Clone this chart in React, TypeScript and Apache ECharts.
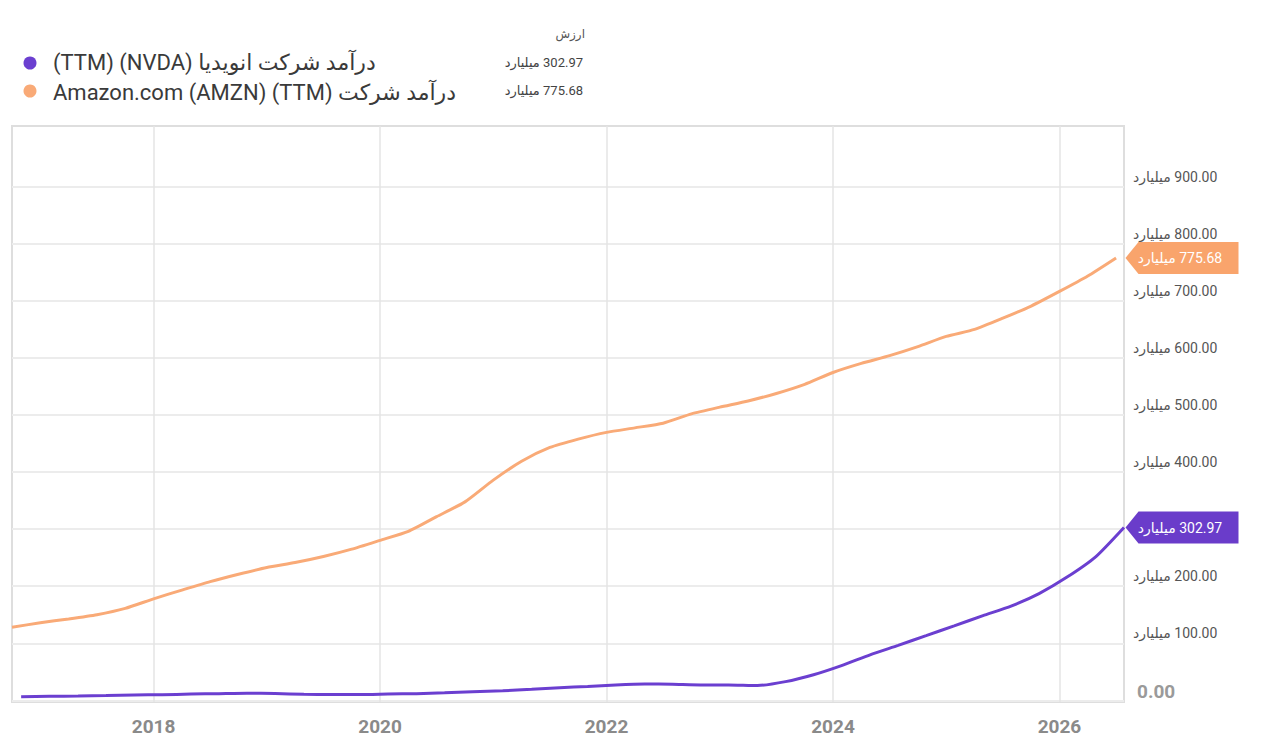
import React, { useEffect, useRef } from "react";
import * as echarts from "echarts";

// ---- data ----
const amznDates = [
  "2016-09-30", "2016-12-31",
  "2017-03-31", "2017-06-30", "2017-09-30", "2017-12-31",
  "2018-03-31", "2018-06-30", "2018-09-30", "2018-12-31",
  "2019-03-31", "2019-06-30", "2019-09-30", "2019-12-31",
  "2020-03-31", "2020-06-30", "2020-09-30", "2020-12-31",
  "2021-03-31", "2021-06-30", "2021-09-30", "2021-12-31",
  "2022-03-31", "2022-06-30", "2022-09-30", "2022-12-31",
  "2023-03-31", "2023-06-30", "2023-09-30", "2023-12-31",
  "2024-03-31", "2024-06-30", "2024-09-30", "2024-12-31",
  "2025-03-31", "2025-06-30", "2025-09-30", "2025-12-31",
  "2026-03-31", "2026-06-30",
];
const amznValues = [
  128.0, 136.0,
  142.6, 150.1, 161.2, 177.9,
  193.2, 208.1, 221.0, 232.9,
  241.5, 252.1, 265.0, 280.5,
  296.3, 322.0, 347.9, 386.1,
  419.1, 443.3, 458.0, 469.8,
  477.7, 485.9, 502.2, 514.0,
  524.9, 538.0, 554.0, 574.8,
  590.7, 604.3, 620.1, 638.0,
  650.3, 670.0, 691.3, 716.9,
  744.0, 775.68,
];
const nvdaDates = [
  "2016-10-30", "2017-01-29", "2017-04-30", "2017-07-30", "2017-10-29",
  "2018-01-28", "2018-04-29", "2018-07-29", "2018-10-28",
  "2019-01-27", "2019-04-28", "2019-07-28", "2019-10-27",
  "2020-01-26", "2020-04-26", "2020-07-26", "2020-10-25",
  "2021-01-31", "2021-05-02", "2021-08-01", "2021-10-31",
  "2022-01-30", "2022-05-01", "2022-07-31", "2022-10-30",
  "2023-01-29", "2023-04-30", "2023-07-30", "2023-10-29",
  "2024-01-28", "2024-04-28", "2024-07-28", "2024-10-27",
  "2025-01-26", "2025-04-27", "2025-07-27", "2025-10-26",
  "2026-01-25", "2026-04-26", "2026-07-26",
];
const nvdaValues = [
  6.14, 6.91, 7.54, 8.34, 9.31,
  9.71, 10.87, 11.66, 12.48,
  11.72, 10.65, 10.14, 10.02,
  10.92, 11.67, 13.06, 14.78,
  16.68, 19.27, 21.99, 24.27,
  26.91, 28.57, 28.08, 26.97,
  26.97, 25.88, 32.68, 44.87,
  60.92, 79.77, 96.31, 113.27,
  130.5, 148.52, 165.22, 187.14,
  216.0, 252.0, 302.97,
];
const xTickYears = [2018, 2020, 2022, 2024, 2026];
const yTickValues = [0, 100, 200, 300, 400, 500, 600, 700, 800, 900];
const unitWord = "میلیارد";
const nvdaName = "(TTM) (NVDA) درآمد شرکت انویدیا";
const amznName = "Amazon.com (AMZN) (TTM) درآمد شرکت";
const valueHeader = "ارزش";

const PURPLE = "#6b3fd0";
const ORANGE = "#f9aa77";
const TAG_PURPLE = "#6a3cca";
const TAG_ORANGE = "#f9a46c";
const FONT = "Roboto, 'DejaVu Sans', sans-serif";
const RLM = "\u200F";

function toYear(d: string): number {
  const [y, m, day] = d.split("-").map(Number);
  const dim = new Date(y, m, 0).getDate();
  return y + (m - 1 + day / dim) / 12;
}

// RLM prefix makes the number sit on the right of the word, as in an RTL page
const fmt = (v: number) => RLM + v.toFixed(2) + " " + unitWord;

export default function App() {
  const ref = useRef<HTMLDivElement>(null);
  useEffect(() => {
    if (!ref.current) return;
    const chart = echarts.init(ref.current, null, { renderer: "svg" });
    const amzn = amznDates.map((d, i) => [toYear(d), amznValues[i]]);
    const nvda = nvdaDates.map((d, i) => [toYear(d), nvdaValues[i]]);
    const xMin = Math.min(amzn[0][0], nvda[0][0]);
    const xMax = Math.max(amzn[amzn.length - 1][0], nvda[nvda.length - 1][0]);
    const lastA = amznValues[amznValues.length - 1];
    const lastN = nvdaValues[nvdaValues.length - 1];
    const tagPath = "path://M0,16L13,0L113,0L113,32L13,32Z";
    const tag = (color: string, v: number) => ({
      symbol: tagPath,
      symbolSize: [113, 32],
      symbolOffset: [58, 0],
      silent: true,
      itemStyle: { color },
      label: {
        show: true,
        position: "inside",
        offset: [-2, 0],
        color: "#fff",
        fontSize: 14,
        fontFamily: FONT,
        formatter: fmt(v),
      },
      data: [{ coord: [xMax, v] }],
    });
    const option: any = {
      animation: false,
      backgroundColor: "#ffffff",
      grid: {
        left: 12,
        right: 156,
        top: 126,
        bottom: 45,
        show: true,
        borderColor: "#dedede",
        borderWidth: 2,
        backgroundColor: "#ffffff",
      },
      xAxis: {
        type: "value",
        min: xMin,
        max: xMax,
        axisLine: { show: false },
        axisTick: { show: false, customValues: xTickYears },
        axisLabel: {
          customValues: xTickYears,
          formatter: (v: number) => String(Math.round(v)),
          margin: 15,
          color: "#8a8a8a",
          fontSize: 19,
          fontWeight: "bold",
          fontFamily: FONT,
        },
        splitLine: { show: true, lineStyle: { color: "#e4e4e4", width: 1.5 } },
      },
      yAxis: {
        type: "value",
        position: "right",
        min: -3,
        max: 1007,
        axisLine: { show: false },
        axisTick: { show: false, customValues: yTickValues },
        axisLabel: {
          customValues: yTickValues,
          margin: 9,
          verticalAlign: "bottom",
          padding: [0, 0, 3, 0],
          color: "#555",
          fontSize: 14,
          fontFamily: FONT,
          formatter: (v: number) => (v === 0 ? "{z|0.00}" : fmt(v)),
          rich: {
            z: {
              fontSize: 19,
              lineHeight: 12,
              fontWeight: "bold",
              color: "#9a9a9a",
              fontFamily: FONT,
              padding: [0, 0, 0, 4],
            },
          },
        },
        splitLine: { show: true, lineStyle: { color: "#ececec", width: 2 } },
      },
      series: [
        {
          name: amznName,
          type: "line",
          data: amzn,
          showSymbol: false,
          smooth: 0.2,
          lineStyle: { color: ORANGE, width: 3 },
          itemStyle: { color: ORANGE },
          z: 3,
          markPoint: tag(TAG_ORANGE, lastA),
        },
        {
          name: nvdaName,
          type: "line",
          data: nvda,
          showSymbol: false,
          smooth: 0.2,
          lineStyle: { color: PURPLE, width: 3 },
          itemStyle: { color: PURPLE },
          z: 4,
          markPoint: tag(TAG_PURPLE, lastN),
        },
      ],
      graphic: [
        {
          type: "text",
          right: 1280 - 585,
          top: 28,
          style: { text: valueHeader, fontSize: 12, fill: "#555", fontFamily: FONT },
        },
        { type: "circle", shape: { cx: 30, cy: 63, r: 6.5 }, style: { fill: PURPLE } },
        { type: "circle", shape: { cx: 30, cy: 91, r: 6.5 }, style: { fill: ORANGE } },
        {
          type: "text",
          x: 53,
          y: 62,
          style: { text: nvdaName, fontSize: 22, fill: "#3a3a3a", fontFamily: FONT, verticalAlign: "middle" },
        },
        {
          type: "text",
          x: 53,
          y: 92,
          style: { text: amznName, fontSize: 22, fill: "#3a3a3a", fontFamily: FONT, verticalAlign: "middle" },
        },
        {
          type: "text",
          x: 583,
          y: 62,
          style: { text: fmt(lastN), fontSize: 13, fill: "#444", fontFamily: FONT, align: "right", verticalAlign: "middle" },
        },
        {
          type: "text",
          x: 583,
          y: 90,
          style: { text: fmt(lastA), fontSize: 13, fill: "#444", fontFamily: FONT, align: "right", verticalAlign: "middle" },
        },
      ],
    };
    chart.setOption(option);
    return () => chart.dispose();
  }, []);
  return (
    <div
      ref={ref}
      style={{ position: "fixed", left: 0, top: 0, width: 1280, height: 747, background: "#fff" }}
    />
  );
}
